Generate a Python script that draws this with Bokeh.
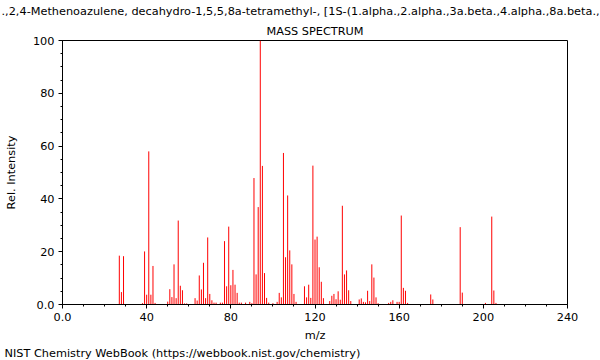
from bokeh.plotting import figure
from bokeh.models import ColumnDataSource, FixedTicker, Range1d, Title
from bokeh.embed import file_html
from bokeh.resources import INLINE

title_line1 = ".,2,4-Methenoazulene, decahydro-1,5,5,8a-tetramethyl-, [1S-(1.alpha.,2.alpha.,3a.beta.,4.alpha.,8a.beta.,"
title_line2 = "MASS SPECTRUM"
footer = "NIST Chemistry WebBook (https://webbook.nist.gov/chemistry)"

mz = [27, 28, 29, 38, 39, 40, 41, 42, 43, 44,
      50, 51, 52, 53, 54, 55, 56, 57, 58, 59,
      63, 64, 65, 66, 67, 68, 69, 70, 71, 72, 73, 75, 76,
      77, 78, 79, 80, 81, 82, 83, 84, 85, 87, 89, 90,
      91, 92, 93, 94, 95, 96, 97, 98, 100,
      102, 103, 104, 105, 106, 107, 108, 109, 110, 111,
      115, 116, 117, 118, 119, 120, 121, 122, 123, 124,
      127, 128, 129, 130, 131, 132, 133, 134, 135, 136, 137,
      141, 142, 143, 144, 145, 146, 147, 148, 149, 150,
      155, 156, 157, 159, 160, 161, 162, 163, 164,
      175, 176, 189, 190, 201, 204, 205, 206]
intensity = [18.5, 4.7, 18.3, 0.5, 20.1, 3.7, 58.0, 3.7, 14.6, 0.6,
             1.1, 5.8, 2.8, 15.2, 2.4, 31.8, 7.1, 5.4, 0.4, 0.4,
             2.4, 1.5, 11.0, 5.7, 15.8, 2.4, 25.4, 4.0, 1.6, 0.7, 0.7, 0.7, 0.7,
             24.0, 6.9, 29.5, 7.3, 13.1, 7.5, 4.4, 0.7, 0.7, 0.7, 1.0, 0.5,
             47.9, 11.4, 36.9, 100.0, 52.5, 11.9, 2.5, 0.7, 0.5,
             1.0, 4.4, 2.7, 57.4, 17.9, 41.3, 20.5, 15.2, 4.0, 1.0,
             6.9, 2.7, 7.5, 2.5, 52.6, 24.6, 25.7, 14.1, 8.6, 2.4,
             1.3, 3.3, 4.0, 2.0, 5.0, 1.8, 37.4, 11.4, 12.9, 5.4, 1.3,
             1.9, 2.3, 1.0, 0.8, 5.2, 1.3, 15.2, 10.2, 2.7, 0.5,
             0.6, 1.0, 1.6, 1.0, 1.0, 33.7, 6.3, 5.2, 0.6,
             3.8, 1.9, 29.3, 4.5, 0.6, 33.3, 5.3, 0.6]

x_ticks = [0, 40, 80, 120, 160, 200, 240]
x_minor = list(range(0, 241, 10))
y_ticks = [0, 20, 40, 60, 80, 100]
y_minor = list(range(0, 101, 5))

FONT = "DejaVu Sans"
FS = "11.3px"

src = ColumnDataSource(dict(mz=mz, zero=[0] * len(mz), inten=intensity))

p = figure(width=600, height=360, output_backend="svg", toolbar_location=None,
           x_range=Range1d(0, 240), y_range=Range1d(0, 100),
           min_border_left=62, min_border_right=33, min_border_top=40, min_border_bottom=56)

p.segment(x0="mz", y0="zero", x1="mz", y1="inten", source=src, line_color="#ff0000", line_width=1)

p.xgrid.visible = False
p.ygrid.visible = False
p.outline_line_color = "black"
p.outline_line_width = 1

for ax in (p.xaxis[0], p.yaxis[0]):
    ax.axis_line_color = "black"
    ax.major_tick_line_color = "black"
    ax.minor_tick_line_color = "black"
    ax.major_tick_in = 0
    ax.major_tick_out = 4
    ax.minor_tick_in = 0
    ax.minor_tick_out = 2
    ax.major_label_text_font = FONT
    ax.major_label_text_font_size = FS
    ax.major_label_text_color = "black"
    ax.axis_label_text_font = FONT
    ax.axis_label_text_font_size = FS
    ax.axis_label_text_font_style = "normal"
    ax.axis_label_text_color = "black"
    ax.major_label_standoff = 4

p.xaxis[0].ticker = FixedTicker(ticks=x_ticks, minor_ticks=x_minor)
p.yaxis[0].ticker = FixedTicker(ticks=y_ticks, minor_ticks=y_minor)
p.xaxis[0].major_label_overrides = {0: "0.0"}
p.yaxis[0].major_label_overrides = {0: "0.0"}
p.xaxis[0].axis_label = "m/z"
p.yaxis[0].axis_label = "Rel. Intensity"
p.xaxis[0].axis_label_standoff = 5
p.yaxis[0].axis_label_standoff = 12

t2 = Title(text=title_line2, align="center", vertical_align="middle", text_font=FONT,
           text_font_size=FS, text_font_style="normal", text_color="black", standoff=4)
t1 = Title(text=title_line1, align="left", vertical_align="top", offset=-61, text_font=FONT,
           text_font_size=FS, text_font_style="normal", text_color="black", standoff=4)
p.add_layout(t2, "above")
p.add_layout(t1, "above")

tf = Title(text=footer, align="left", offset=-58, text_font=FONT, text_font_size=FS,
           text_font_style="normal", text_color="black", standoff=0)
p.add_layout(tf, "below")

open("out.html", "w").write(file_html(p, INLINE))
